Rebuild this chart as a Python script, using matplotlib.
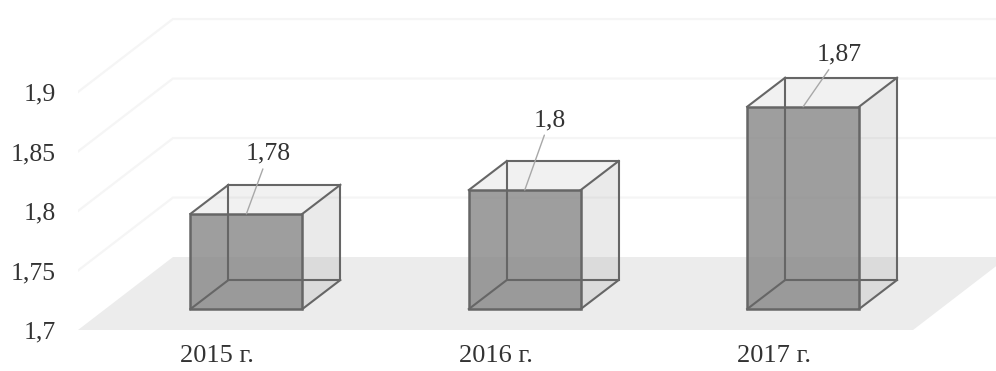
import matplotlib
matplotlib.use('Agg')
import matplotlib.pyplot as plt
from matplotlib.patches import Polygon

years = ['2015 г.', '2016 г.', '2017 г.']
values = [1.78, 1.8, 1.87]
value_labels = ['1,78', '1,8', '1,87']
y_ticks = [1.7, 1.75, 1.8, 1.85, 1.9]
y_labels = ['1,7', '1,75', '1,8', '1,85', '1,9']

# depth of the floor and of the bars, in data units
floor_dx, floor_dy = 0.341, 0.0613
bar_x0, bar_y0 = 0.105, 0.0176
bar_dx, bar_dy = 0.1365, 0.0244
bar_w = 0.402
label_off = [(22, 49), (25, 59), (36, 41)]

plt.rcParams['font.family'] = ['Liberation Serif', 'DejaVu Serif']
fig = plt.figure(figsize=(9.96, 3.71), dpi=100)
ax = fig.add_axes([78 / 996, 41 / 371, 918 / 996, 330 / 371])
ax.set_xlim(-0.5, 2.798)
ax.set_ylim(1.7, 1.9773)
for s in ax.spines.values():
    s.set_visible(False)

# floor
ax.add_patch(Polygon([(-0.5, 1.7), (2.5, 1.7), (2.5 + floor_dx, 1.7 + floor_dy),
                      (-0.5 + floor_dx, 1.7 + floor_dy)], fc='#ececec', ec='none', zorder=1))
# wall grid
for v in y_ticks[1:]:
    ax.plot([-0.5, -0.5 + floor_dx, 3], [v, v + floor_dy, v + floor_dy],
            color='#f5f5f5', lw=1.6, zorder=1)

edge = '#666666'
for i, v in enumerate(values):
    xl = i + bar_x0 - bar_w / 2
    xr = xl + bar_w
    yb = 1.7 + bar_y0
    yt = v + bar_y0
    fb = [(xl, yb), (xr, yb), (xr, yt), (xl, yt)]
    bk = [(x + bar_dx, y + bar_dy) for x, y in fb]
    # back, side, top and bottom, all see-through
    ax.add_patch(Polygon([fb[1], bk[1], bk[2], fb[2]], fc='#909090', alpha=0.18, ec='none', zorder=2))
    ax.add_patch(Polygon([fb[3], fb[2], bk[2], bk[3]], fc='#909090', alpha=0.12, ec='none', zorder=2))
    ax.add_patch(Polygon(fb, fc='#808080', alpha=0.76, ec='none', zorder=4))
    # hidden edges seen through the front
    ax.add_patch(Polygon(bk, fc='none', ec=edge, lw=1.5, zorder=5))
    ax.plot([fb[0][0], bk[0][0]], [fb[0][1], bk[0][1]], color=edge, lw=1.5, zorder=5)
    ax.add_patch(Polygon(fb, fc='none', ec=edge, lw=1.8, zorder=5))
    for k in (1, 2, 3):
        ax.plot([fb[k][0], bk[k][0]], [fb[k][1], bk[k][1]], color=edge, lw=1.5, zorder=5)
    # value label with leader line
    ax.annotate(value_labels[i], xy=(i + bar_x0, yt), xytext=label_off[i],
                textcoords='offset pixels', ha='center', va='bottom', fontsize=18.5,
                color='#333333', zorder=6,
                arrowprops=dict(arrowstyle='-', color='#a8a8a8', lw=1, shrinkA=1, shrinkB=0))

ax.set_xticks(range(len(years)))
ax.set_xticklabels(years, fontsize=19, color='#333333')
ax.set_yticks(y_ticks)
ax.set_yticklabels(y_labels, fontsize=18.5, color='#333333')
ax.tick_params(axis='both', length=0)
ax.tick_params(axis='x', pad=10.5)
ax.tick_params(axis='y', pad=16)

fig.savefig('out.png', dpi=100)
